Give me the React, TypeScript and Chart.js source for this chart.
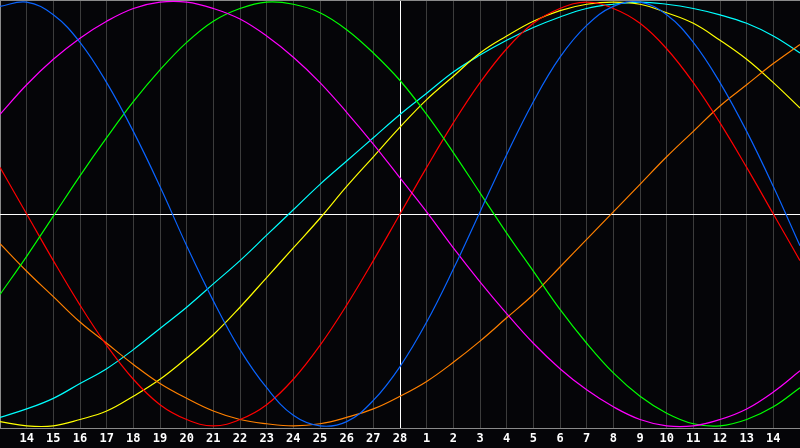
import { useEffect, useRef } from "react"
import { Chart, registerables } from "chart.js"

Chart.register(...registerables)

// day labels: 13 Jan .. 15 Feb style span, today = 28 (index 15)
const dayLabels = [
    "13", "14", "15", "16", "17", "18", "19", "20", "21", "22", "23", "24", "25", "26", "27", "28",
    "1", "2", "3", "4", "5", "6", "7", "8", "9", "10", "11", "12", "13", "14", "15",
]
const todayIndex = 15

// cycle values, one per day
const physical = [
    0.98, 1.0, 0.94, 0.81, 0.62, 0.39, 0.13, -0.15, -0.41, -0.64, -0.82, -0.95, -1.0, -0.98, -0.88, -0.72,
    -0.51, -0.26, 0.01, 0.28, 0.53, 0.74, 0.89, 0.98, 1.0, 0.94, 0.81, 0.62, 0.39, 0.13, -0.15,
]
const emotional = [
    0.22, 0.0, -0.22, -0.43, -0.62, -0.78, -0.9, -0.97, -1.0, -0.97, -0.9, -0.78, -0.62, -0.43, -0.22, 0.0,
    0.22, 0.43, 0.62, 0.78, 0.9, 0.97, 1.0, 0.97, 0.9, 0.78, 0.62, 0.43, 0.22, 0.0, -0.22,
]
const intellectual = [
    -0.38, -0.2, -0.01, 0.18, 0.36, 0.53, 0.68, 0.81, 0.91, 0.97, 1.0, 0.99, 0.95, 0.87, 0.76, 0.63,
    0.47, 0.29, 0.1, -0.09, -0.27, -0.45, -0.61, -0.75, -0.86, -0.94, -0.99, -1.0, -0.97, -0.91, -0.82,
]
const intuitive = [
    0.47, 0.61, 0.73, 0.83, 0.91, 0.97, 1.0, 1.0, 0.97, 0.92, 0.84, 0.74, 0.62, 0.48, 0.33, 0.17,
    0.01, -0.16, -0.32, -0.47, -0.61, -0.73, -0.83, -0.91, -0.97, -1.0, -1.0, -0.97, -0.92, -0.84, -0.74,
]
const aesthetic = [
    -0.98, -1.0, -1.0, -0.97, -0.93, -0.86, -0.78, -0.68, -0.57, -0.44, -0.3, -0.16, -0.02, 0.13, 0.27, 0.41,
    0.54, 0.65, 0.76, 0.84, 0.91, 0.96, 0.99, 1.0, 0.99, 0.95, 0.9, 0.82, 0.73, 0.62, 0.5,
]
const awareness = [
    -0.14, -0.27, -0.39, -0.51, -0.61, -0.71, -0.8, -0.87, -0.93, -0.97, -0.99, -1.0, -0.99, -0.96, -0.92, -0.86,
    -0.79, -0.7, -0.6, -0.49, -0.38, -0.25, -0.12, 0.01, 0.14, 0.27, 0.39, 0.51, 0.61, 0.71, 0.8,
]
const spiritual = [
    -0.96, -0.92, -0.87, -0.8, -0.73, -0.64, -0.54, -0.44, -0.33, -0.22, -0.1, 0.02, 0.14, 0.25, 0.36, 0.47,
    0.57, 0.67, 0.75, 0.82, 0.88, 0.93, 0.97, 0.99, 1.0, 0.99, 0.97, 0.94, 0.9, 0.84, 0.76,
]

const series = [
    { label: "Physical", data: physical, color: "#0a64ff" },
    { label: "Intuitive", data: intuitive, color: "#ff00ff" },
    { label: "Intellectual", data: intellectual, color: "#00ff00" },
    { label: "Emotional", data: emotional, color: "#ff0000" },
    { label: "Awareness", data: awareness, color: "#ff8000" },
    { label: "Aesthetic", data: aesthetic, color: "#ffff00" },
    { label: "Spiritual", data: spiritual, color: "#00ffff" },
]

const yLimit = 1.01

export default function App() {
    const canvasRef = useRef<HTMLCanvasElement>(null)
    const chartRef = useRef<Chart | null>(null)

    useEffect(() => {
        if (!canvasRef.current) return
        if (chartRef.current) chartRef.current.destroy()

        chartRef.current = new Chart(canvasRef.current, {
            type: "line",
            data: {
                labels: dayLabels,
                datasets: series.map((s) => ({
                    label: s.label,
                    data: s.data,
                    borderColor: s.color,
                    borderWidth: 1.2,
                    pointRadius: 0,
                    pointHoverRadius: 0,
                    tension: 0.4,
                    fill: false,
                })),
            },
            options: {
                responsive: true,
                maintainAspectRatio: false,
                animation: false,
                layout: { padding: 0, autoPadding: false },
                plugins: {
                    legend: { display: false },
                    tooltip: { enabled: false },
                },
                scales: {
                    x: {
                        type: "category",
                        offset: false,
                        grid: {
                            drawTicks: false,
                            lineWidth: 1,
                            color: (ctx: any) =>
                                ctx.index === todayIndex ? "#ffffff" : ctx.index === 0 ? "#8a8a8a" : "#3c3c3c",
                        },
                        border: { display: true, color: "#8a8a8a" },
                        ticks: {
                            color: "#ffffff",
                            padding: 4,
                            autoSkip: false,
                            maxRotation: 0,
                            font: { family: "'DejaVu Sans Mono', monospace", size: 12, weight: "bold" },
                            callback: (_v: any, i: number) =>
                                i === 0 || i === dayLabels.length - 1 ? "" : dayLabels[i],
                        },
                        afterFit: (scale: any) => {
                            scale.height = 20
                            scale.paddingLeft = 0
                            scale.paddingRight = 0
                        },
                    },
                    y: {
                        min: -yLimit,
                        max: yLimit,
                        ticks: { display: false },
                        border: { display: false },
                        grid: {
                            drawTicks: false,
                            lineWidth: 1,
                            color: (ctx: any) => (ctx.tick && ctx.tick.value === 0 ? "#ffffff" : "#8a8a8a"),
                        },
                        afterBuildTicks: (scale: any) => {
                            scale.ticks = [{ value: -yLimit }, { value: 0 }, { value: yLimit }]
                        },
                        afterFit: (scale: any) => {
                            scale.width = 0
                            scale.paddingTop = 0
                            scale.paddingBottom = 0
                        },
                    },
                },
            },
        })

        return () => {
            if (chartRef.current) {
                chartRef.current.destroy()
                chartRef.current = null
            }
        }
    }, [])

    return (
        <div
            style={{
                position: "fixed",
                left: 0,
                top: 0,
                width: 800,
                height: 448,
                background: "#050508",
            }}
        >
            <canvas ref={canvasRef} />
        </div>
    )
}
